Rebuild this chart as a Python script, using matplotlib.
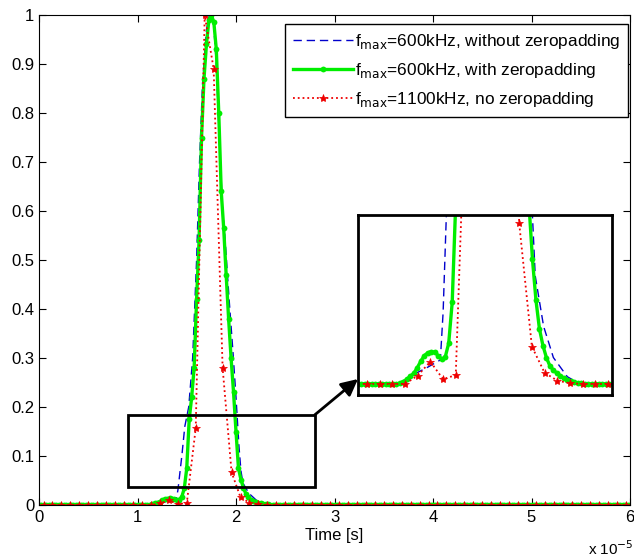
import numpy as np
import matplotlib
matplotlib.use("Agg")
import matplotlib.pyplot as plt
from matplotlib.patches import Rectangle

plt.rcParams['font.family'] = ['Liberation Sans', 'DejaVu Sans']
plt.rcParams['font.size'] = 12

# time axis in units of 1e-5 s
# red: fmax=1100kHz, no zeropadding (sample period 0.0909e-5 s)
red_step = 0.0909
red_first = 0.046
red_pulse_start = 1.227
red_pulse = [0.0035, 0.0093, 0.0020, 0.0037, 0.157, 1.0, 0.89, 0.28, 0.067, 0.0156,
             0.0047, 0.0014, 0.0003]

# blue: fmax=600kHz, without zeropadding
blue_t = [0.0, 1.00, 1.10, 1.20, 1.30, 1.39, 1.41, 1.45, 1.48, 1.52, 1.56, 1.60,
          1.63, 1.66, 1.70, 1.73, 1.77, 1.80, 1.83, 1.86, 1.89, 1.93, 1.97, 2.00,
          2.03, 2.05, 2.07, 2.13, 2.20, 2.30, 2.39, 6.0]
blue_v = [0, 0, 0.0003, 0.004, 0.007, 0.010, 0.03, 0.10, 0.16, 0.20, 0.30, 0.50,
          0.70, 0.86, 0.97, 1.0, 0.99, 0.90, 0.75, 0.62, 0.54, 0.42, 0.31, 0.22,
          0.12, 0.07, 0.045, 0.024, 0.011, 0.003, 0, 0]

# green: fmax=600kHz, with zeropadding (dense samples, step 0.025)
green_step = 0.025
green_pulse_start = 1.0
green_pulse = [0, 0, 0, 0, 0.0003, 0.0010, 0.0020, 0.0032, 0.0045, 0.0068,
               0.0095, 0.0118, 0.0130, 0.0135, 0.0132, 0.0118, 0.0102, 0.0112, 0.017, 0.034,
               0.075, 0.175, 0.22, 0.28, 0.42, 0.54, 0.75, 0.87, 0.94, 0.99,
               1.0, 0.985, 0.93, 0.80, 0.64, 0.565, 0.47, 0.38, 0.30, 0.23,
               0.15, 0.075, 0.052, 0.035, 0.023, 0.016, 0.011, 0.0075, 0.0058, 0.0045,
               0.0034, 0.0025, 0.0017, 0.0011, 0.0007, 0.0004, 0.0002, 0, 0, 0, 0]

# sample grids (baseline samples are zero in the picture)
red_t = red_first + np.arange(0, 66) * red_step
red_v = np.zeros(len(red_t))
j0 = int(round((red_pulse_start - red_first) / red_step))
red_v[j0:j0 + len(red_pulse)] = red_pulse

green_t = np.arange(0, 241) * green_step
green_v = np.zeros(len(green_t))
i0 = int(round(green_pulse_start / green_step))
green_v[i0:i0 + len(green_pulse)] = green_pulse

labels = [r'f$_{\rm max}$=600kHz, without zeropadding',
          r'f$_{\rm max}$=600kHz, with zeropadding',
          r'f$_{\rm max}$=1100kHz, no zeropadding']

W, H = 634, 557
fig = plt.figure(figsize=(W / 100, H / 100), dpi=100)
ax = fig.add_axes([39 / W, 1 - 505 / H, 591 / W, 490 / H])


def draw(a):
    a.plot(blue_t, blue_v, '--', color='#0000cc', lw=1, dashes=(6, 3.5), label=labels[0])
    a.plot(green_t, green_v, '-', color='#00ee00', lw=2.4, marker='o', ms=4.2,
           markeredgewidth=0, label=labels[1])
    a.plot(red_t, red_v, ':', color='#ee0000', lw=1.3, marker='*', ms=6,
           markeredgewidth=0.5, label=labels[2])


draw(ax)
ax.set_xlim(0, 6)
ax.set_ylim(0, 1)
ax.set_xticks([0, 1, 2, 3, 4, 5, 6])
ax.set_yticks(np.arange(0, 1.01, 0.1))
ax.set_yticklabels(['0', '0.1', '0.2', '0.3', '0.4', '0.5', '0.6', '0.7', '0.8', '0.9', '1'])
ax.tick_params(direction='in', top=True, right=True, length=5, width=0.8)
ax.set_xlabel('Time [s]', labelpad=2)
fig.text(588 / W, 1 - 549 / H, r'x 10$^{-5}$', fontsize=11, ha='left', va='center')

leg = ax.legend(loc='upper right', bbox_to_anchor=(1.0 - 2 / 591, 1.0 - 9 / 490),
                fancybox=False, framealpha=1, edgecolor='k', handlelength=3.5,
                borderpad=0.45, labelspacing=0.6, handletextpad=0.1, borderaxespad=0,
                fontsize=12.4)
leg.get_frame().set_linewidth(1)

# zoom box on main plot
ax.add_patch(Rectangle((0.904, 0.037), 2.80 - 0.904, 0.184 - 0.037, fill=False,
                       edgecolor='k', lw=2, zorder=5))

# inset
ins = fig.add_axes([358 / W, 1 - 395 / H, 254 / W, 180 / H])
draw(ins)
ins.set_xlim(0.80, 2.62)
ins.set_ylim(-0.0046, 0.0704)
ins.set_xticks([])
ins.set_yticks([])
for s in ins.spines.values():
    s.set_linewidth(2)

ax.annotate('', xy=(358 / W, 1 - 379 / H), xycoords='figure fraction',
            xytext=(2.80, 0.184), textcoords='data',
            arrowprops=dict(arrowstyle='-|>', color='k', lw=2, mutation_scale=25,
                            shrinkA=0, shrinkB=0))

fig.savefig('out.png', dpi=100)
